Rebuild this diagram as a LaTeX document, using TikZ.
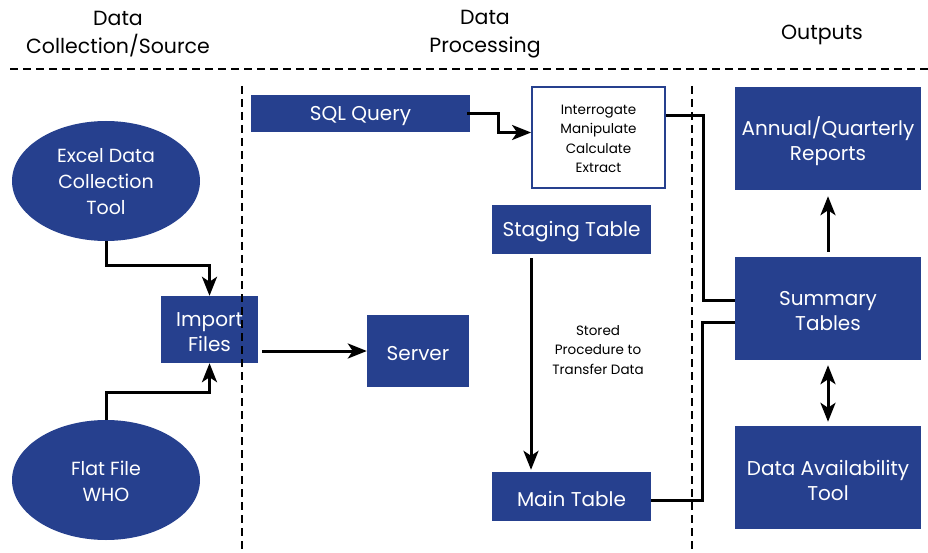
\documentclass[tikz,border=0pt]{standalone}
\usepackage{fontspec}
\setmainfont{Poppins}
\usetikzlibrary{arrows.meta,shapes.geometric}
\definecolor{navy}{HTML}{26408E}
\begin{document}
\begin{tikzpicture}[x=1pt,y=-1pt,
  boxtext/.style={text=white,align=center,inner sep=0pt,yshift=-2.5pt,
    font=\fontsize{20}{25}\selectfont},
  bluebox/.style={fill=navy,draw=none,inner sep=0pt,label={[boxtext]center:#1}},
  bluell/.style={ellipse,fill=navy,draw=none,inner sep=0pt,
    minimum width=188,minimum height=120,
    label={[boxtext,yshift=1.5pt,font=\fontsize{19}{26}\selectfont]center:#1}},
  smalltext/.style={align=center,inner sep=0pt,font=\fontsize{13.5}{19.3}\selectfont},
  whitebox/.style={fill=white,draw=navy,line width=1.8pt,inner sep=0pt,
    label={[smalltext,yshift=-1.5pt]center:#1}},
  header/.style={align=center,font=\fontsize{20.5}{28}\selectfont},
  divider/.style={line width=2.8pt,dash pattern=on 8pt off 5pt},
  arr/.style={line width=3pt,-{Stealth[length=19pt,width=15pt,inset=5pt]}},
  dblarr/.style={line width=3pt,{Stealth[length=19pt,width=15pt,inset=5pt]}-{Stealth[length=19pt,width=15pt,inset=5pt]}},
  link/.style={line width=3pt}]
\useasboundingbox (0,0) rectangle (928,553);

% column headings
\node[header] (h1) at (118,34) {Data\\Collection/Source};
\node[header] (h2) at (485,34) {Data\\Processing};
\node[header] (h3) at (822,35) {Outputs};

% column dividers
\coordinate (hl) at (10,69);
\coordinate (hr) at (928,69);
\draw[divider] (hl) -- (hr);
\coordinate (v1t) at (242,86);
\coordinate (v1b) at (242,553);
\coordinate (v2t) at (692,86);
\coordinate (v2b) at (692,553);

% sources
\node[bluell={Excel Data\\Collection\\Tool}] (excel) at (106,181) {};
\node[bluell={Flat File\\WHO}] (flat) at (106,480) {};
\node[bluebox={Import\\Files},minimum width=97,minimum height=67] (import) at (209.5,329.5) {};

% dividers drawn over the import box
\draw[divider] (v1t) -- (v1b);
\draw[divider] (v2t) -- (v2b);

% processing
\node[bluebox={SQL Query},minimum width=219,minimum height=37] (sql) at (360.5,113.5) {};
\node[whitebox={Interrogate\\Manipulate\\Calculate\\Extract},minimum width=133,minimum height=101]
  (interr) at (598.5,137.5) {};
\node[bluebox={Server},minimum width=102,minimum height=72] (server) at (418,351) {};
\node[bluebox={Staging Table},minimum width=159,minimum height=49] (staging) at (571.5,229.5) {};
\node[bluebox={Main Table},minimum width=159,minimum height=49] (main) at (571.5,496.5) {};
\node[smalltext] (stored) at (598,350) {Stored\\Procedure to\\Transfer Data};

% outputs
\node[bluebox={Annual/Quarterly\\Reports},minimum width=186,minimum height=103] (annual) at (828,138.5) {};
\node[bluebox={Summary\\Tables},minimum width=186,minimum height=103] (summary) at (828,308.5) {};
\node[bluebox={Data Availability\\Tool},minimum width=186,minimum height=103] (avail) at (828,477.5) {};

% connectors
\draw[arr] (excel.south) -- ++(0,24) -| (import.north);
\draw[arr] (flat.north) -- ++(0,-27) -| (import.south);
\draw[arr] ([xshift=4]server.west -| import.east) -- (server.west);
\draw[arr] ([xshift=-3]sql.east) -- ++(31,0) |- ([yshift=5]interr.west);
\draw[arr,shorten <=4,shorten >=2] ([xshift=-40.5]staging.south) -- ([xshift=-40.5]main.north);
\draw[link] ([yshift=21.5]interr.east) -- ++(38,0) |- ([yshift=8.5]summary.west);
\draw[link] ([yshift=-4]main.east) -- ++(51,0) |- ([yshift=-13.5]summary.west);
\draw[arr,shorten <=5,shorten >=6] (summary.north) -- (annual.south);
\draw[dblarr,shorten <=5,shorten >=4] (summary.south) -- (avail.north);
\end{tikzpicture}
\end{document}
